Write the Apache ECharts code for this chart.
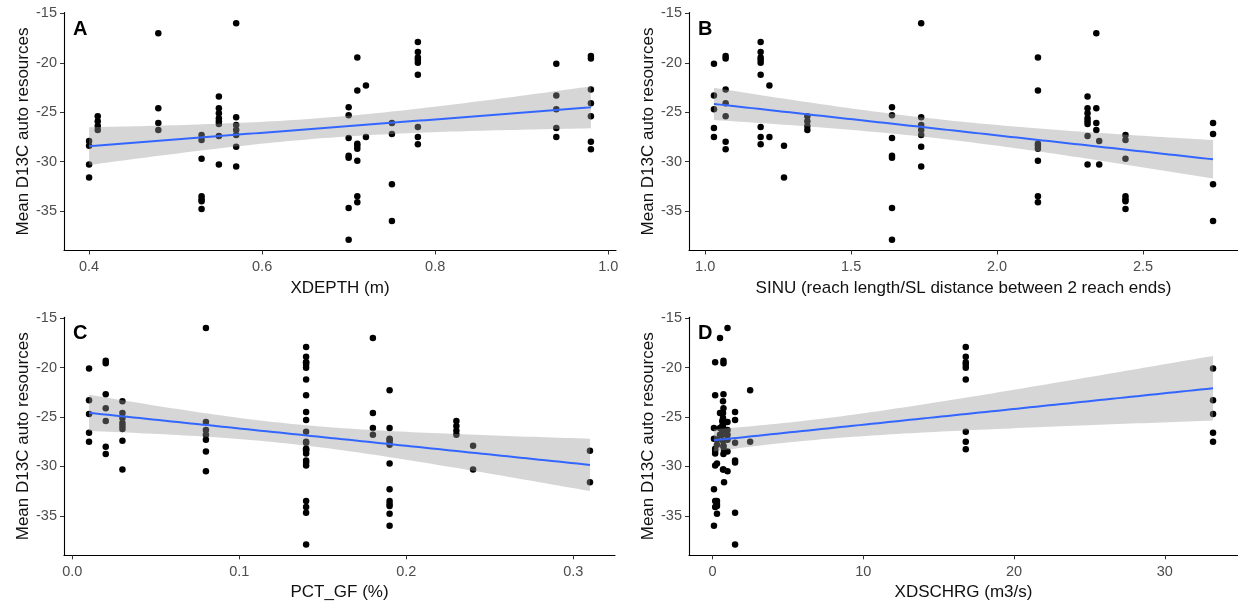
<!DOCTYPE html>
<html>
<head>
<meta charset="utf-8">
<script src="https://cdn.jsdelivr.net/npm/echarts@6/dist/echarts.min.js"></script>
<style>
html,body{margin:0;padding:0;background:#fff;}
#chart{width:1238px;height:608px;}
</style>
</head>
<body>
<div id="chart"></div>
<script>
// ---- Data ----
// Mean D13C auto resources, grouped by site
const siteD13C = [
  [-28.4, -31.6],
  [-27.9, -30.3],
  [-25.4, -25.9, -26.4, -26.8],
  [-17.0, -24.6, -26.1, -26.8],
  [-27.3, -27.8, -29.7, -33.5, -33.8, -34.0, -34.8],
  [-23.4, -24.6, -25.1, -25.6, -25.9, -26.2, -27.4, -30.3],
  [-16.0, -25.5, -26.3, -26.8, -27.3, -28.5, -30.5],
  [-24.5, -25.3, -27.6, -29.4, -29.6, -34.7, -37.9],
  [-19.45, -22.8, -28.2, -28.4, -28.7, -29.9, -33.5, -34.1],
  [-22.3, -27.5],
  [-26.1, -27.2, -32.3, -36.0],
  [-17.9, -18.9, -19.45, -19.7, -20.0, -21.2, -26.5, -27.5, -28.25],
  [-20.1, -23.3, -24.7, -26.6, -27.5],
  [-19.3, -19.55, -22.7, -24.1, -25.4, -28.0, -28.75]
];
// Site-level predictors
const siteXDEPTH  = [0.40, 0.40, 0.41, 0.48, 0.53, 0.55, 0.57, 0.70, 0.71, 0.72, 0.75, 0.78, 0.94, 0.98];
const siteSINU    = [1.27, 2.35, 1.35, 2.34, 2.44, 2.31, 1.74, 1.64, 2.14, 1.22, 2.74, 1.19, 1.03, 1.07];
const sitePCTGF   = [0.31, 0.24, 0.23, 0.18, 0.19, 0.03, 0.08, 0.14, 0.14, 0.19, 0.19, 0.14, 0.01, 0.02];
const siteXDSCHRG = [0.77, 0.73, 0.65, 0.50, 0.30, 0.70, 1.00, 1.50, 0.18, 2.50, 0.10, 16.8, 33.2, 0.73];

// Tick labels
const yTicks = [-35, -30, -25, -20, -15];
const xTicksA = [0.4, 0.6, 0.8, 1.0];
const xTicksB = [1.0, 1.5, 2.0, 2.5];
const xTicksC = [0.0, 0.1, 0.2, 0.3];
const xTicksD = [0, 10, 20, 30];

const panelLetters = ['A', 'B', 'C', 'D'];
const xTitles = ['XDEPTH (m)', 'SINU (reach length/SL distance between 2 reach ends)', 'PCT_GF (%)', 'XDSCHRG (m3/s)'];
const yTitle = 'Mean D13C auto resources';

// ---- Build point tables ----
function expand(siteX) {
  const pts = [];
  siteD13C.forEach((ys, i) => ys.forEach(y => pts.push([siteX[i], y])));
  return pts;
}
const panels = [
  { pts: expand(siteXDEPTH), ticks: xTicksA, fmt: v => v.toFixed(1) },
  { pts: expand(siteSINU), ticks: xTicksB, fmt: v => v.toFixed(1) },
  { pts: expand(sitePCTGF), ticks: xTicksC, fmt: v => v.toFixed(1) },
  { pts: expand(siteXDSCHRG), ticks: xTicksD, fmt: v => String(v) }
];

// linear model fit with 95% confidence band (as geom_smooth(method = "lm"))
function lmBand(pts) {
  const n = pts.length;
  let mx = 0, my = 0;
  pts.forEach(p => { mx += p[0]; my += p[1]; });
  mx /= n; my /= n;
  let sxx = 0, sxy = 0;
  pts.forEach(p => { sxx += (p[0] - mx) ** 2; sxy += (p[0] - mx) * (p[1] - my); });
  const b = sxy / sxx, a = my - b * mx;
  let sse = 0;
  pts.forEach(p => { sse += (p[1] - a - b * p[0]) ** 2; });
  const s = Math.sqrt(sse / (n - 2));
  const t = 1.993;
  const xs = pts.map(p => p[0]);
  const lo = Math.min(...xs), hi = Math.max(...xs);
  const out = [];
  const N = 80;
  for (let i = 0; i < N; i++) {
    const x = lo + (hi - lo) * i / (N - 1);
    const yh = a + b * x;
    const se = s * Math.sqrt(1 / n + (x - mx) ** 2 / sxx);
    out.push([x, yh - t * se, yh + t * se, yh]);
  }
  return out;
}

const allY = siteD13C.flat();
const yMinD = Math.min(...allY), yMaxD = Math.max(...allY);
const yPad = (yMaxD - yMinD) * 0.05;

const grids = [
  { left: 64, top: 12.5, width: 552, height: 238 },
  { left: 689, top: 12.5, width: 549, height: 238 },
  { left: 64, top: 317.3, width: 551, height: 238 },
  { left: 689, top: 317.3, width: 550, height: 238 }
];

const FONT = '"Liberation Sans", Arial, sans-serif';
const xAxes = [], yAxes = [], series = [], titles = [];

panels.forEach((p, i) => {
  const xs = p.pts.map(q => q[0]);
  const xmin = Math.min(...xs), xmax = Math.max(...xs);
  const xPad = (xmax - xmin) * 0.05;
  xAxes.push({
    type: 'value', gridIndex: i, min: xmin - xPad, max: xmax + xPad,
    name: xTitles[i], nameLocation: 'middle', nameGap: 29,
    nameTextStyle: { fontFamily: FONT, fontSize: 17, color: '#111' },
    axisLine: { show: true, onZero: false, lineStyle: { color: '#000', width: 1.1 } },
    axisTick: { show: true, customValues: p.ticks, length: 4, lineStyle: { color: '#333' } },
    axisLabel: { customValues: p.ticks, formatter: p.fmt, margin: 9, fontFamily: FONT, fontSize: 14.5, color: '#4D4D4D' },
    splitLine: { show: false }
  });
  yAxes.push({
    type: 'value', gridIndex: i, min: yMinD - yPad, max: yMaxD + yPad,
    name: yTitle, nameLocation: 'middle', nameGap: 32,
    nameTextStyle: { fontFamily: FONT, fontSize: 17, color: '#111' },
    axisLine: { show: true, onZero: false, lineStyle: { color: '#000', width: 1.1 } },
    axisTick: { show: true, customValues: yTicks, length: 4, lineStyle: { color: '#333' } },
    axisLabel: { customValues: yTicks, formatter: v => String(v), margin: 7, fontFamily: FONT, fontSize: 14.5, color: '#4D4D4D' },
    splitLine: { show: false }
  });
  series.push({
    type: 'scatter', xAxisIndex: i, yAxisIndex: i, data: p.pts,
    symbol: 'circle', symbolSize: 6.5, itemStyle: { color: '#000', opacity: 1 }, z: 2, silent: true
  });
  const band = lmBand(p.pts);
  series.push({
    type: 'custom', xAxisIndex: i, yAxisIndex: i, data: band, z: 3, silent: true,
    encode: { x: 0, y: 3 },
    renderItem: function (params, api) {
      if (params.dataIndex !== 0) return null;
      const poly = [];
      for (let k = 0; k < band.length; k++) poly.push(api.coord([band[k][0], band[k][2]]));
      for (let k = band.length - 1; k >= 0; k--) poly.push(api.coord([band[k][0], band[k][1]]));
      return { type: 'polygon', shape: { points: poly }, style: { fill: 'rgba(153,153,153,0.4)' } };
    }
  });
  series.push({
    type: 'line', xAxisIndex: i, yAxisIndex: i, data: band.map(b => [b[0], b[3]]),
    showSymbol: false, lineStyle: { color: '#3366FF', width: 2 }, z: 4, silent: true
  });
  titles.push({
    text: panelLetters[i], left: grids[i].left + 4, top: grids[i].top + 1.5,
    textStyle: { fontFamily: FONT, fontSize: 20, fontWeight: 'bold', color: '#000' }
  });
});

const chart = echarts.init(document.getElementById('chart'), null, { renderer: 'canvas' });
chart.setOption({
  animation: false,
  backgroundColor: '#fff',
  title: titles,
  grid: grids,
  xAxis: xAxes,
  yAxis: yAxes,
  series: series
});
</script>
</body>
</html>
